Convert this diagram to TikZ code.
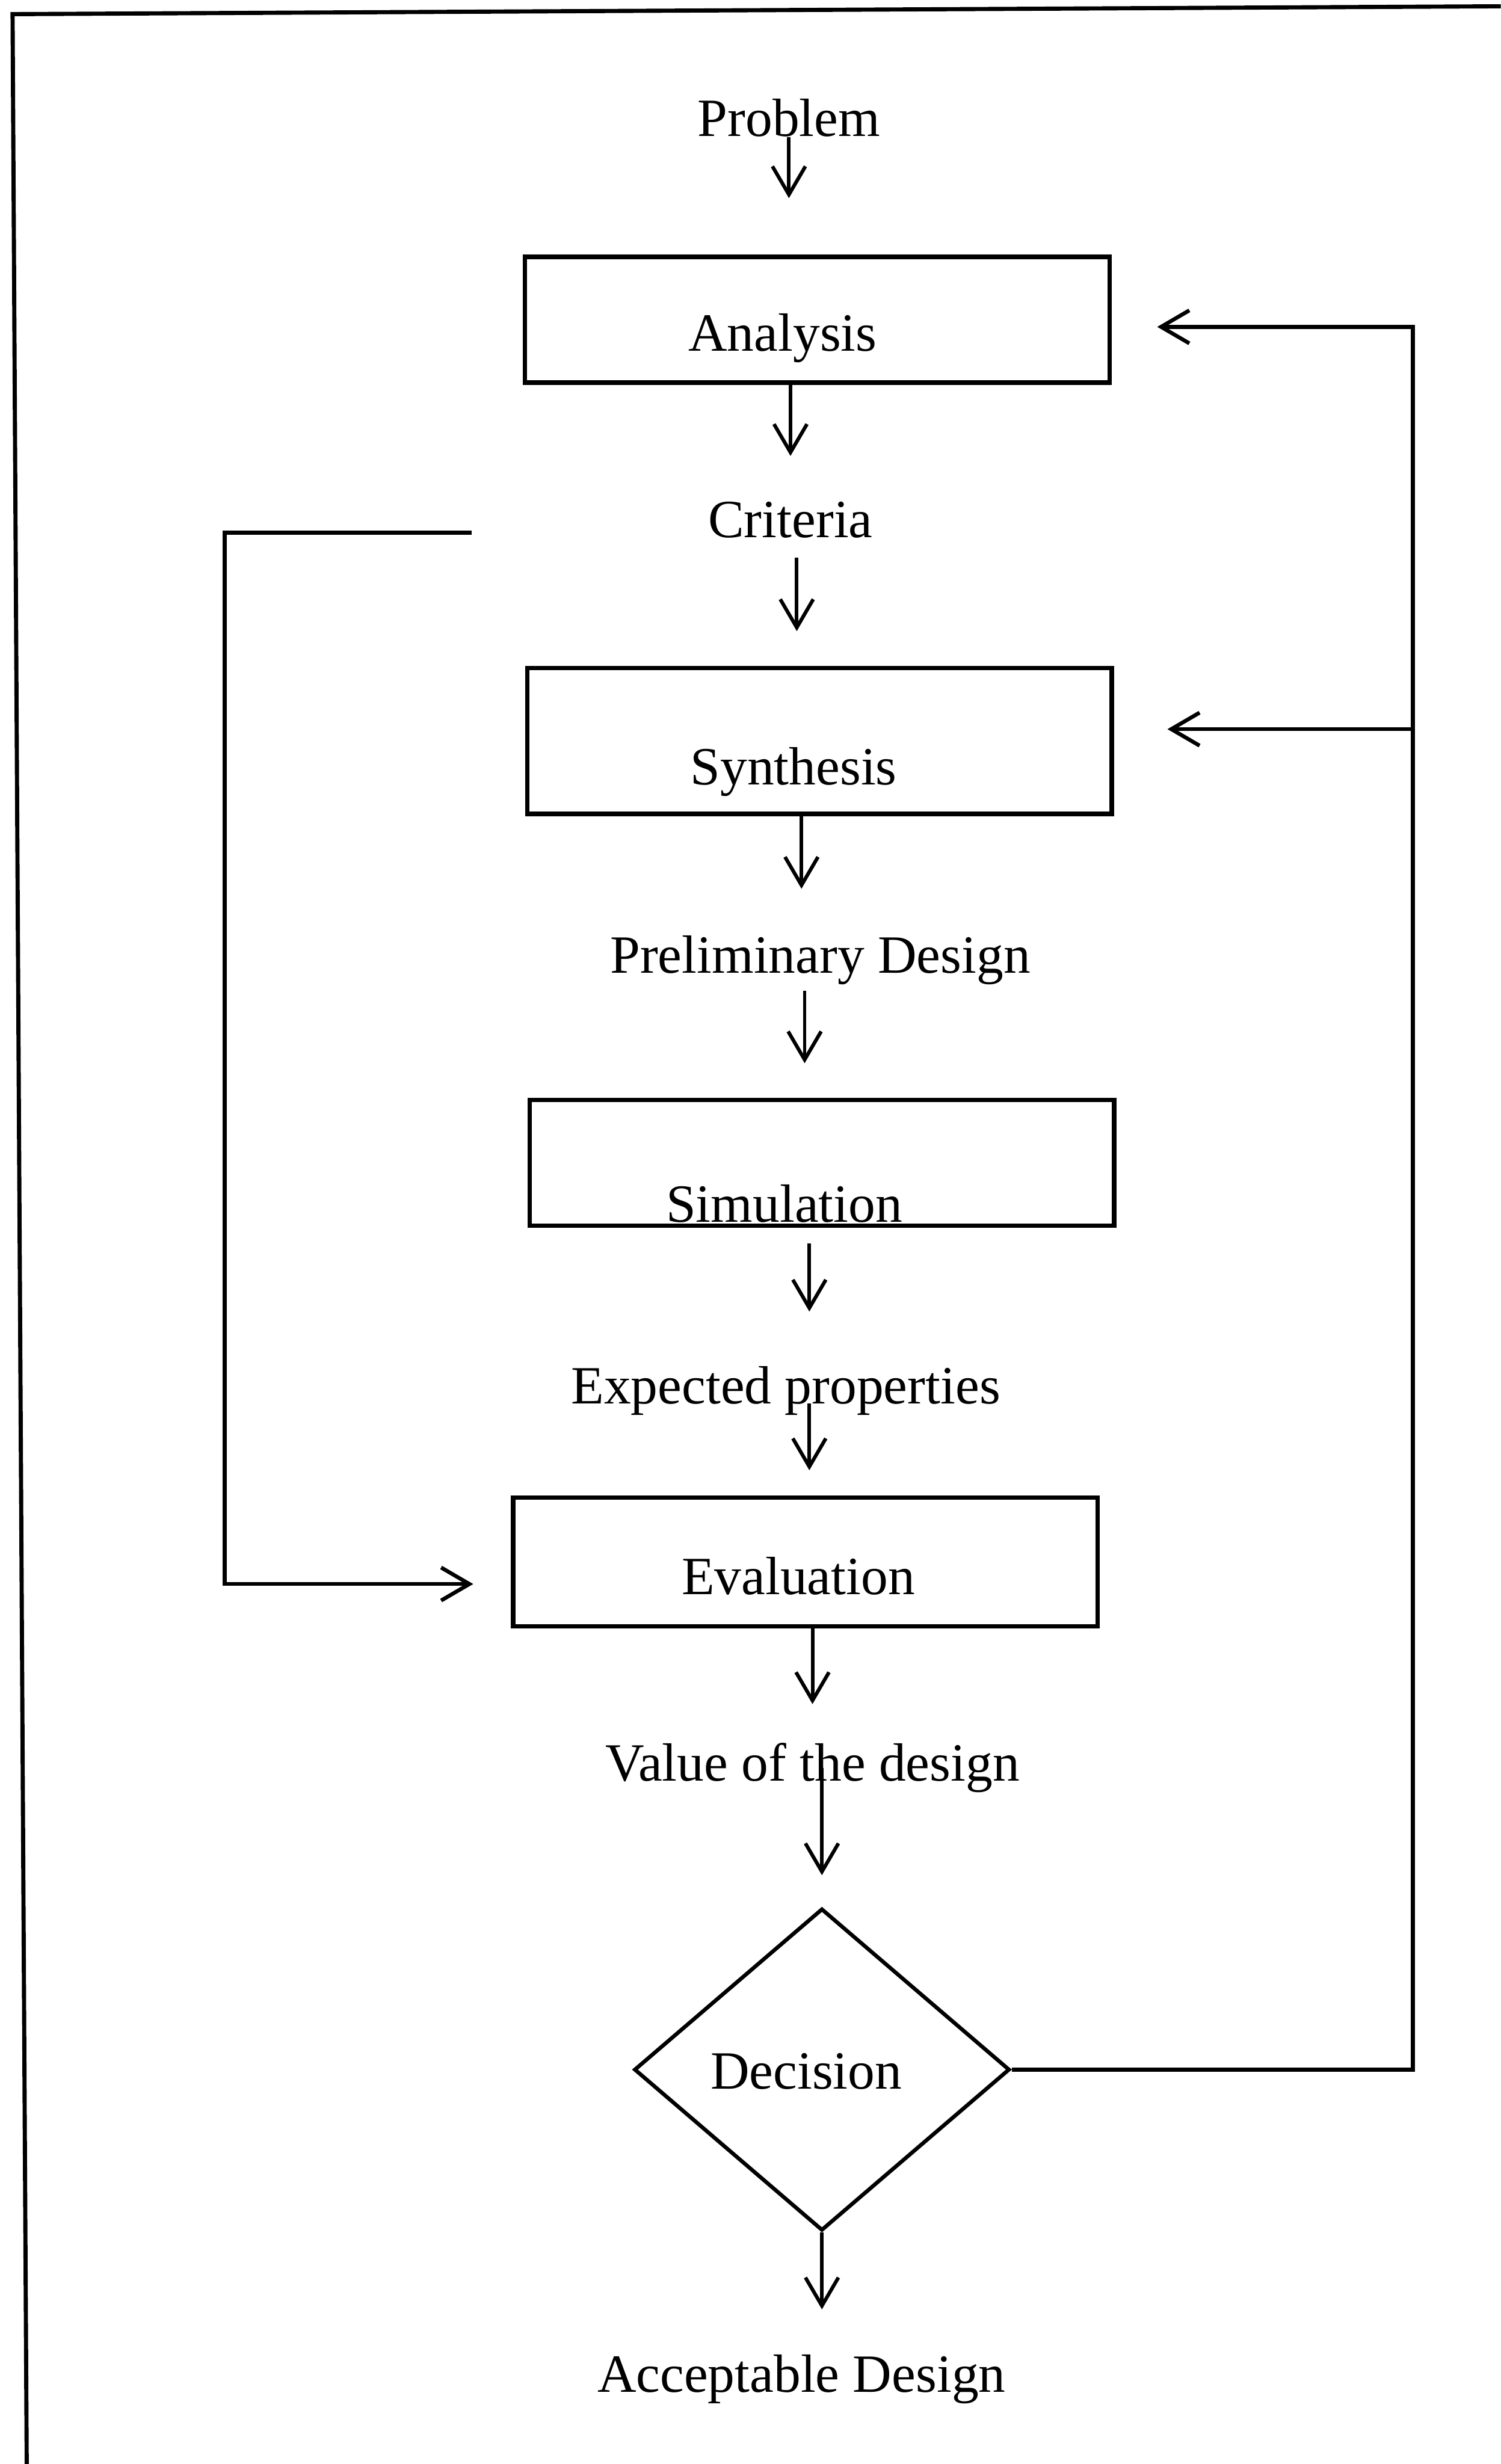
\documentclass[tikz,border=0pt]{standalone}
\usepackage{fontspec}
\setmainfont{Liberation Serif}
\usetikzlibrary{arrows.meta}
\usetikzlibrary{shapes.geometric}

\begin{document}
\begin{tikzpicture}[
                x=0.02cm, y=-0.02cm,
                box/.style={rectangle,draw,line width=1.6pt,minimum width=7.44cm,minimum height=1.6cm},
                lbl/.style={inner sep=0pt,font=\fontsize{19.5}{23}\selectfont},
                arr/.style={line width=1.3pt,-{Straight Barb[length=0.36cm,width=0.42cm]}},
                loopline/.style={line width=1.4pt},
                ]
                \useasboundingbox (0,0) rectangle (955,1568);
                \draw[line width=1.5pt] (955,4) -- (8,9) -- (17,1568);

                \node[lbl] (problem) at (502,75) {Problem};
                \node[box] (analysis) at (520,203.5) {};
                \node[lbl] (analysis txt) at (498,215) {Analysis};
                \node[lbl] (criteria) at (503,331) {Criteria};
                \node[box, minimum height=1.86cm] (synthesis) at (521.5,471.5) {};
                \node[lbl] (synthesis txt) at (505,491) {Synthesis};
                \node[lbl] (prelim) at (522,611) {Preliminary Design};
                \node[box] (simulation) at (523,740) {};
                \node[lbl] (simulation txt) at (499,766) {Simulation};
                \node[lbl] (expected) at (500,885) {Expected properties};
                \node[box, minimum height=1.64cm] (evaluation) at (512.5,994) {};
                \node[lbl] (evaluation txt) at (508,1003) {Evaluation};
                \node[lbl] (value) at (517,1125) {Value of the design};
                \node[diamond, draw, line width=1.4pt, minimum width=4.78cm, minimum height=4.1cm, inner sep=0pt] (decision) at (523,1317) {};
                \node[lbl] (decision txt) at (513,1318) {Decision};
                \node[lbl] (acceptable) at (510,1514) {Acceptable Design};

                \coordinate (rtop) at (899,208);
                \coordinate (rsyn) at (899,464);
                \coordinate (lstart) at (300,339);
                \coordinate (lfoot) at (143,1008);

                \draw[arr, shorten >=0.72cm] (problem.south) -- (problem.south |- analysis.north);
                \draw[arr, shorten >=0.58cm] (criteria.north |- analysis.south) -- (criteria.north);
                \draw[arr, shorten <=0.24cm, shorten >=0.44cm] ([xshift=0.08cm]criteria.south) -- ([xshift=0.08cm]criteria.south |- synthesis.north);
                \draw[arr, shorten >=0.59cm] ([xshift=-0.23cm]synthesis.south) -- ([xshift=-0.23cm]synthesis.south |- prelim.north);
                \draw[arr, shorten <=0.07cm, shorten >=0.44cm] ([xshift=-0.2cm]prelim.south) -- ([xshift=-0.2cm]prelim.south |- simulation.north);
                \draw[arr, shorten <=0.2cm, shorten >=0.69cm] ([xshift=-0.16cm]simulation.south) -- ([xshift=-0.16cm]simulation.south |- expected.north);
                \draw[arr, shorten <=0.16cm, shorten >=0.32cm] ([xshift=0.3cm]expected.center) -- ([xshift=0.3cm]expected.center |- evaluation.north);
                \draw[arr, shorten >=0.49cm] (value.north |- evaluation.south) -- (value.north);
                \draw[arr, shorten >=0.4cm] (decision.north |- value.center) -- (decision.north);
                \draw[arr, shorten >=0.57cm] (decision.south) -- (decision.south |- acceptable.north);

                % feedback to analysis and synthesis
                \draw[arr, loopline, shorten >=0.58cm] (decision.east) -| (rtop) -- (analysis.east |- rtop);
                \draw[arr, loopline, shorten >=0.68cm] (rsyn) -- (synthesis.east |- rsyn);
                % criteria into evaluation
                \draw[arr, loopline, shorten >=0.48cm] (lstart) -| (lfoot) -- (evaluation.west |- lfoot);
            \end{tikzpicture}
\end{document}
